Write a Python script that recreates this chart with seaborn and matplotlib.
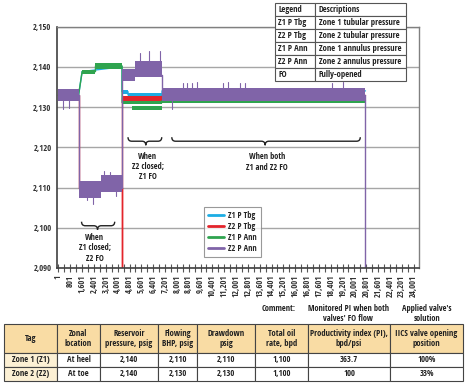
"""
Zone pressures during ICV open/close test, with summary table
"""

import matplotlib.pyplot as plt
import seaborn as sns
from matplotlib.path import Path
from matplotlib.patches import PathPatch

# --- data (x = sample index, y = psig) ---
y_ticks = [2090, 2100, 2110, 2120, 2130, 2140, 2150]
y_tick_labels = ["2,090", "2,100", "2,110", "2,120", "2,130", "2,140", "2,150"]
x_ticks = list(range(1, 24002, 800))
x_minor = list(range(401, 24002, 800))

# Z1 P Tbg (cyan)
z1_tbg_x = [1, 1360, 1600, 4300, 4300, 4700, 4700, 7000, 7000, 20750]
z1_tbg_y = [2133, 2133, 2138.8, 2140, 2133.8, 2133.8, 2133.0, 2133.0, 2134.0, 2134.0]
z1_tbg_start = [4300, 4700, 7000]
z1_tbg_end = [4700, 7000, 20750]
z1_tbg_lo = [2133.3, 2132.6, 2133.5]
z1_tbg_hi = [2134.3, 2133.6, 2134.6]

# Z2 P Tbg (red)
z2_tbg_x = [1, 1360, 1360, 4300, 4300, 4300, 7000, 7000, 20750]
z2_tbg_y = [2133, 2133, 2110, 2110, 2085, 2132.2, 2132.2, 2133, 2133]
z2_tbg_start = [4300]
z2_tbg_end = [7000]
z2_tbg_lo = [2131.4]
z2_tbg_hi = [2132.8]

# Z1 P Ann (green)
z1_ann_x = [1, 1360, 1600, 2500, 2500, 4300, 4300, 7000, 7000, 20750]
z1_ann_y = [2133, 2133, 2138.8, 2138.8, 2140.2, 2140.2, 2131.1, 2131.1, 2131.6, 2131.6]
z1_ann_start = [1600, 2500, 4300, 5000, 7000]
z1_ann_end = [2500, 4300, 7000, 7000, 20750]
z1_ann_lo = [2138.3, 2139.5, 2130.7, 2129.2, 2130.9]
z1_ann_hi = [2139.3, 2141.0, 2131.5, 2130.3, 2132.2]

# Z2 P Ann (purple)
z2_ann_x = [1, 1360, 1360, 4300, 4300, 7000, 7000, 20750, 20750]
z2_ann_y = [2133, 2133, 2110, 2110, 2138, 2138, 2133, 2133, 2085]
z2_ann_start = [1, 1360, 2900, 4300, 5200, 7000]
z2_ann_end = [1360, 2900, 4300, 5200, 7000, 20750]
z2_ann_lo = [2131.5, 2107.5, 2109.0, 2136.5, 2137.5, 2131.5]
z2_ann_hi = [2134.5, 2111.5, 2113.0, 2139.5, 2141.5, 2134.8]
z2_ann_spike_x = [300, 700, 1900, 2300, 3100, 3500, 3900, 5500, 6150, 6850,
                  7700, 8400, 8700, 9000, 9350, 11100, 11450, 12250, 12600,
                  18500, 19250]
z2_ann_spike_y = [2129.5, 2129.8, 2106.8, 2106.0, 2114.0, 2113.8, 2107.8, 2143.5,
                  2144.0, 2143.8, 2129.5, 2136.0, 2136.0, 2136.0, 2136.2, 2136.0,
                  2136.2, 2136.0, 2136.0, 2136.0, 2136.2]

series_names = ["Z1 P Tbg", "Z2 P Tbg", "Z1 P Ann", "Z2 P Ann"]
series_colors = ["#1cade4", "#e3242b", "#2fa44f", "#8064a8"]

# description box (top right)
desc_rows = [
    ["Legend", "Descriptions"],
    ["Z1 P Tbg", "Zone 1 tubular pressure"],
    ["Z2 P Tbg", "Zone 2 tubular pressure"],
    ["Z1 P Ann", "Zone 1 annulus pressure"],
    ["Z2 P Ann", "Zone 2 annulus pressure"],
    ["FO", "Fully-opened"],
]

# summary table (bottom)
table_header = ["Tag", "Zonal\nlocation", "Reservoir\npressure, psig", "Flowing\nBHP, psig",
                "Drawdown\npsig", "Total oil\nrate, bpd", "Productivity index (PI),\nbpd/psi",
                "IICS valve opening\nposition"]
table_rows = [
    ["Zone 1 (Z1)", "At heel", "2,140", "2,110", "2,110", "1,100", "363.7", "100%"],
    ["Zone 2 (Z2)", "At toe", "2,140", "2,130", "2,130", "1,100", "100", "33%"],
]

W, H = 465, 384


def fx(px):
    return px / W


def fy(py):
    return 1 - py / H


def draw_series(ax, x, y, starts, ends, lows, highs, color, label):
    for s, e, lo, hi in zip(starts, ends, lows, highs):
        ax.fill_between([s, e], [lo, lo], [hi, hi], color=color, lw=0, zorder=2)
    sns.lineplot(x=x, y=y, estimator=None, sort=False, color=color, lw=1.0,
                 label=label, ax=ax, zorder=2)


def draw_brace(ax, x0, x1, xm, y, depth, r):
    """Horizontal curly brace, ends up, tip pointing down."""
    ym = y - depth / 2
    yt = y - depth
    verts = [(x0, y), (x0, ym), (x0 + r, ym),
             (xm - r, ym), (xm, ym), (xm, yt),
             (xm, ym), (xm + r, ym),
             (x1 - r, ym), (x1, ym), (x1, y)]
    codes = [Path.MOVETO, Path.CURVE3, Path.CURVE3,
             Path.LINETO, Path.CURVE3, Path.CURVE3,
             Path.CURVE3, Path.CURVE3,
             Path.LINETO, Path.CURVE3, Path.CURVE3]
    ax.add_patch(PathPatch(Path(verts, codes), fill=False, lw=1.0,
                           edgecolor="#222222", zorder=3))


sns.set_theme(style="white")
plt.rcParams["font.family"] = ["Open Sans Condensed", "Roboto Condensed",
                               "Liberation Sans Narrow", "Lato", "DejaVu Sans"]
plt.rcParams["font.weight"] = "bold"

fig = plt.figure(figsize=(W / 100, H / 100), dpi=100)
ax = fig.add_axes([fx(57), fy(268), fx(419) - fx(57), fy(26.5) - fy(268)])

draw_series(ax, z1_tbg_x, z1_tbg_y, z1_tbg_start, z1_tbg_end, z1_tbg_lo, z1_tbg_hi,
            series_colors[0], series_names[0])
draw_series(ax, z2_tbg_x, z2_tbg_y, z2_tbg_start, z2_tbg_end, z2_tbg_lo, z2_tbg_hi,
            series_colors[1], series_names[1])
draw_series(ax, z1_ann_x, z1_ann_y, z1_ann_start, z1_ann_end, z1_ann_lo, z1_ann_hi,
            series_colors[2], series_names[2])
draw_series(ax, z2_ann_x, z2_ann_y, z2_ann_start, z2_ann_end, z2_ann_lo, z2_ann_hi,
            series_colors[3], series_names[3])
# spikes off the purple band
for sx, sy in zip(z2_ann_spike_x, z2_ann_spike_y):
    if 4300 < sx < 7000:
        base = 2139
    elif 1360 < sx < 4300:
        base = 2110
    else:
        base = 2133
    ax.plot([sx, sx], [base, sy], color=series_colors[3], lw=0.8, zorder=2)

ax.set_xlim(-100, 24370)
ax.set_ylim(2090, 2150)
ax.set_yticks(y_ticks)
ax.set_yticklabels(y_tick_labels)
ax.set_xticks(x_ticks)
ax.set_xticklabels([f"{v:,}" for v in x_ticks], rotation=90)
ax.set_xticks(x_minor, minor=True)
ax.tick_params(axis="y", length=0, labelsize=6.2, pad=4, colors="#333333")
ax.tick_params(axis="x", which="both", direction="inout", length=6, width=0.8,
               color="#555555", labelsize=6.2, pad=2, labelcolor="#333333")
ax.tick_params(axis="x", which="minor", bottom=True)
ax.tick_params(axis="x", which="major", bottom=True)
ax.set_xlabel("")
ax.set_ylabel("")
ax.grid(axis="y", color="#a6a6a6", lw=1.0, zorder=0)
ax.set_axisbelow(True)
for side in ["left", "bottom"]:
    ax.spines[side].set_color("#404040")
    ax.spines[side].set_linewidth(1.2)
for side in ["top", "right"]:
    ax.spines[side].set_color("#808080")
    ax.spines[side].set_linewidth(1.0)

leg = ax.legend(loc="lower left", bbox_to_anchor=(0.406, 0.046), borderaxespad=0,
                fontsize=6.0, frameon=True, fancybox=False, edgecolor="#808080",
                handlelength=2.0, handletextpad=0.45, labelspacing=0.25,
                borderpad=0.45)
leg.get_frame().set_linewidth(0.8)
for line in leg.get_lines():
    line.set_linewidth(2.0)

# braces and phase notes
draw_brace(ax, 1560, 3800, 2640, 2101.5, 2.0, 250)
draw_brace(ax, 4700, 6980, 5900, 2122.5, 2.0, 250)
draw_brace(ax, 7660, 20400, 13970, 2122.5, 2.0, 250)
note_kw = dict(ha="center", va="center", fontsize=6.0, fontweight="bold",
               color="#222222", linespacing=1.2)
ax.text(2440, 2095.0, "When\nZ1 closed;\nZ2 FO", **note_kw)
ax.text(6030, 2115.2, "When\nZ2 closed;\nZ1 FO", **note_kw)
ax.text(14100, 2116.3, "When both\nZ1 and Z2 FO", **note_kw)

# description box on top right
ax_d = fig.add_axes([fx(275), fy(80.5), fx(406) - fx(275), fy(3) - fy(80.5)])
ax_d.axis("off")
tbl_d = ax_d.table(cellText=desc_rows, colWidths=[40, 91], cellLoc="left",
                   bbox=[0, 0, 1, 1])
tbl_d.auto_set_font_size(False)
for (r, c), cell in tbl_d.get_celld().items():
    cell.set_edgecolor("#555555")
    cell.set_linewidth(0.8)
    cell.set_facecolor("white")
    cell.PAD = 0.08 if c == 0 else 0.04
    cell.get_text().set_fontsize(6.2)
    cell.get_text().set_fontweight("bold")
    cell.get_text().set_color("#222222")

# comment line above the table
com_kw = dict(ha="center", va="center", fontsize=6.0, fontweight="bold",
              color="#222222", linespacing=1.15)
fig.text(fx(279), fy(308.5), "Comment:", **com_kw)
fig.text(fx(348), fy(313.5), "Monitored PI when both\nvalves' FO flow", **com_kw)
fig.text(fx(427), fy(313.5), "Applied valve's\nsolution", **com_kw)

# summary table
ax_t = fig.add_axes([fx(4), fy(381), fx(463) - fx(4), fy(324) - fy(381)])
ax_t.axis("off")
col_w = [53, 43, 58, 39, 58, 53, 82, 73]
tbl = ax_t.table(cellText=table_rows, colLabels=table_header, colWidths=col_w,
                 cellLoc="center", bbox=[0, 0, 1, 1])
tbl.auto_set_font_size(False)
for (r, c), cell in tbl.get_celld().items():
    cell.set_edgecolor("#444444")
    cell.set_linewidth(0.8)
    cell.set_height(0.5 if r == 0 else 0.25)
    cell.PAD = 0.02
    if r == 0:
        cell.set_facecolor("#f9dca4")
    elif c == 0:
        cell.set_facecolor("#fcf0d4")
    else:
        cell.set_facecolor("white")
    cell.get_text().set_fontsize(6.2)
    cell.get_text().set_fontweight("bold")
    cell.get_text().set_color("#222222")
    cell.get_text().set_linespacing(1.15)

fig.savefig("out.png", dpi=100)
plt.close(fig)
